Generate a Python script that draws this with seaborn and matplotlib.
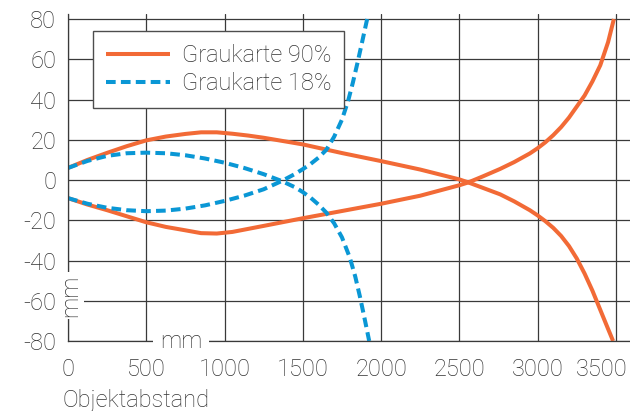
import matplotlib
matplotlib.use('Agg')
import matplotlib.pyplot as plt
import matplotlib.transforms as mtransforms
from matplotlib.lines import Line2D
import pandas as pd
import seaborn as sns

# ---------------- data ----------------
series_names = ['Graukarte 90%', 'Graukarte 18%']

# Graukarte 90% - branch starting at +6 (rises, then falls to -80)
x90_upper = [0, 125, 250, 375, 500, 625, 750, 850, 950, 1050, 1150, 1250, 1500,
             1750, 2000, 2250, 2500, 2557, 2650, 2760, 2850, 2950, 3000, 3050,
             3100, 3150, 3200, 3250, 3300, 3350, 3400, 3450, 3482]
y90_upper = [6, 10, 13.5, 16.8, 19.7, 21.6, 22.9, 23.7, 23.7, 23.0, 22.1, 21,
             17.7, 13.4, 9.4, 5.2, 0.3, -1.2, -3.9, -7.1, -10.6, -15.0, -17.6,
             -20.5, -23.8, -27.8, -32.8, -39, -46.5, -55, -64.5, -74, -80]

# Graukarte 90% - branch starting at -9 (falls, then rises to +80)
x90_lower = [0, 125, 250, 375, 500, 625, 750, 850, 950, 1050, 1150, 1250, 1500,
             1750, 2000, 2250, 2500, 2557, 2650, 2760, 2850, 2950, 3000, 3050,
             3100, 3150, 3200, 3250, 3300, 3350, 3400, 3450, 3487]
y90_lower = [-9, -12.2, -15, -18, -21, -23.3, -25, -26.4, -26.6, -25.8, -24.3,
             -22.8, -19, -15.4, -11.8, -7.8, -2.6, -1.2, 1.8, 5.5, 8.9, 13.2,
             15.8, 18.8, 22.3, 26.3, 31, 36.5, 42, 49, 57, 68.5, 80]

# Graukarte 18% - branch starting at +6 (falls to -80)
x18_upper = [0, 125, 250, 375, 500, 625, 750, 875, 1000, 1125, 1250, 1365, 1450,
             1500, 1550, 1600, 1650, 1700, 1750, 1800, 1835, 1865, 1895, 1924]
y18_upper = [6, 9.5, 12, 13.3, 13.6, 13.3, 12.3, 10.7, 8.6, 6, 2.9, -0.5, -3.6,
             -6, -8.8, -12.2, -16.2, -21.5, -28.5, -38.5, -48, -58, -69, -80]

# Graukarte 18% - branch starting at -9 (rises to +80)
x18_lower = [0, 125, 250, 375, 500, 625, 750, 875, 1000, 1125, 1250, 1365, 1450,
             1500, 1550, 1600, 1650, 1700, 1750, 1790, 1820, 1850, 1880, 1911]
y18_lower = [-9, -11.8, -13.8, -15, -15.5, -15.2, -14.2, -12.6, -10.4, -7.8, -4.6,
             -0.5, 3, 5.4, 8, 11.1, 15, 21.5, 30, 39.5, 48.5, 58.5, 69, 80]

x_ticks = [0, 500, 1000, 1500, 2000, 2500, 3000, 3500]
x_tick_labels = ['0', '500', '1000', '1500', '2000', '2500', '3000', '3500']
y_ticks = [-80, -60, -40, -20, 0, 20, 40, 60, 80]
y_tick_labels = ['-80', '-60', '-40', '-20', '0', '20', '40', '60', '80']

x_title = 'Objektabstand'
unit_label = 'mm'

# ---------------- style ----------------
sns.set_style('white')
plt.rcParams['font.family'] = ['Roboto', 'Liberation Sans', 'DejaVu Sans']
plt.rcParams['font.weight'] = 'light'
plt.rcParams['axes.unicode_minus'] = False

orange = '#F26A36'
blue = '#0A97D5'
grid_c = '#3a3a3a'
text_c = '#333333'
fs = 17
lw = 2.9
dash_pat = (2.4, 1.3)

palette = {series_names[0]: orange, series_names[1]: blue}
dashes = {series_names[0]: '', series_names[1]: dash_pat}

frames = []
for name, branch, xs, ys in [
    (series_names[0], 'a', x90_upper, y90_upper),
    (series_names[0], 'b', x90_lower, y90_lower),
    (series_names[1], 'a', x18_upper, y18_upper),
    (series_names[1], 'b', x18_lower, y18_lower),
]:
    frames.append(pd.DataFrame({'x': xs, 'y': ys, 'Serie': name,
                                'Ast': name + ' ' + branch}))
df = pd.concat(frames, ignore_index=True)

W, H = 630, 411
fig = plt.figure(figsize=(W / 100, H / 100), dpi=100)
ax_left, ax_right, ax_top, ax_bottom = 68, 630, 14, 341
ax = fig.add_axes([ax_left / W, 1 - ax_bottom / H,
                   (ax_right - ax_left) / W, (ax_bottom - ax_top) / H])

sns.lineplot(data=df, x='x', y='y', hue='Serie', style='Serie', units='Ast',
             estimator=None, sort=False, palette=palette, dashes=dashes,
             linewidth=lw, legend=False, ax=ax)
for ln in ax.lines:
    ln.set_solid_capstyle('butt')
    ln.set_dash_capstyle('butt')
    ln.set_solid_joinstyle('round')
    ln.set_dash_joinstyle('round')

ax.set_xlim(0, 3590)
ax.set_ylim(-80, 82.5)
ax.set_xticks(x_ticks)
ax.set_xticklabels(x_tick_labels)
ax.set_yticks(y_ticks)
ax.set_yticklabels(y_tick_labels)
ax.set_xlabel('')
ax.set_ylabel('')

ax.grid(True, color=grid_c, linewidth=0.9)
ax.set_axisbelow(True)
for s in ['top', 'right']:
    ax.spines[s].set_visible(False)
for s in ['left', 'bottom']:
    ax.spines[s].set_color(grid_c)
    ax.spines[s].set_linewidth(0.9)

ax.tick_params(axis='both', which='major', direction='out', length=6.5,
               width=0.9, color=grid_c, labelsize=fs, labelcolor=text_c)
ax.tick_params(axis='x', pad=6)
ax.tick_params(axis='y', pad=2)

# last x label sits shifted left so it stays inside the figure
last = ax.get_xticklabels()[-1]
last.set_transform(last.get_transform() +
                   mtransforms.ScaledTranslation(-14 / 100, 0, fig.dpi_scale_trans))

# unit labels sitting on the axes lines
ax.text(722, -80, unit_label, ha='center', va='center', fontsize=fs,
        color=text_c, clip_on=False, zorder=5,
        bbox=dict(facecolor='white', edgecolor='none', pad=5))
ax.text(16, -57.5, unit_label, ha='center', va='center', rotation=90,
        fontsize=fs, color=text_c, clip_on=False, zorder=5,
        bbox=dict(facecolor='white', edgecolor='none', pad=1.5))

fig.text(63 / W, 1 - 400 / H, x_title, ha='left', va='center', fontsize=fs,
         color=text_c)

handles = [Line2D([], [], color=orange, lw=lw, solid_capstyle='butt'),
           Line2D([], [], color=blue, lw=lw, linestyle=(0, dash_pat),
                  dash_capstyle='butt')]
leg = ax.legend(handles, series_names, loc='upper left',
                bbox_to_anchor=((93 - ax_left) / (ax_right - ax_left),
                                (ax_bottom - 31) / (ax_bottom - ax_top)),
                borderaxespad=0, fontsize=fs, frameon=True, fancybox=False,
                framealpha=1, handlelength=2.7, handletextpad=0.5,
                labelspacing=0.22, borderpad=0.55, labelcolor=text_c)
leg.get_frame().set_edgecolor('#4d4d4d')
leg.get_frame().set_linewidth(1.0)
leg.set_zorder(6)

fig.savefig('out.png', dpi=100)
